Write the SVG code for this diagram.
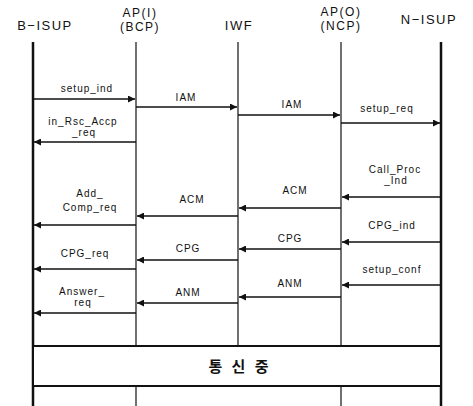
<svg xmlns="http://www.w3.org/2000/svg" width="473" height="406" viewBox="0 0 473 406">
<style>
.hd{font-family:"Liberation Sans",Arial,sans-serif;font-size:13px;letter-spacing:1.5px;text-anchor:middle;fill:#111}
.hd2{font-family:"Liberation Sans",Arial,sans-serif;font-size:12px;letter-spacing:1.5px;text-anchor:middle;fill:#111}
.lb{font-family:"Liberation Sans",Arial,sans-serif;font-size:10px;letter-spacing:1px;text-anchor:middle;fill:#111}
.thick{stroke:#111;stroke-width:2.5;fill:none}
.thin{stroke:#111;stroke-width:1.2;fill:none}
.msg{stroke:#111;stroke-width:1.3;fill:none;marker-end:url(#ah)}
</style>
<defs>
<marker id="ah" viewBox="0 0 10 10" refX="10" refY="5" markerWidth="9" markerHeight="7" markerUnits="userSpaceOnUse" orient="auto">
<path d="M0,0 L10,5 L0,10 z" fill="#111"/>
</marker>
</defs>
<rect width="473" height="406" fill="#fff"/>
<g id="B-ISUP">
<text class="hd" x="45" y="30">B−ISUP</text>
<line class="thick" x1="33" y1="42" x2="33" y2="406"/>
</g>
<g id="AP-I">
<text class="hd2" x="140" y="17">AP(I)</text>
<text class="hd2" x="140" y="31">(BCP)</text>
<line class="thin" x1="136" y1="42" x2="136" y2="346"/>
<line class="thin" x1="136" y1="386" x2="136" y2="406"/>
</g>
<g id="IWF">
<text class="hd" x="239" y="30">IWF</text>
<line class="thin" x1="238" y1="42" x2="238" y2="346"/>
</g>
<g id="AP-O">
<text class="hd2" x="341" y="16">AP(O)</text>
<text class="hd2" x="341" y="30">(NCP)</text>
<line class="thin" x1="341" y1="42" x2="341" y2="346"/>
<line class="thin" x1="341" y1="386" x2="341" y2="406"/>
</g>
<g id="N-ISUP">
<text class="hd" x="429" y="24">N−ISUP</text>
<line class="thick" x1="441" y1="42" x2="441" y2="406"/>
</g>
<g id="in-call">
<rect x="33" y="346" width="408" height="40" fill="#fff" stroke="#111" stroke-width="2"/>
<text x="240" y="372" style="font-family:'Noto Sans CJK KR',sans-serif;font-size:15px;font-weight:bold;letter-spacing:3px;text-anchor:middle;fill:#111">통 신 중</text>
</g>
<g id="connectors">
<line class="msg" x1="33" y1="99" x2="135" y2="99"/>
<text class="lb" x="87" y="92">setup_ind</text>
<line class="msg" x1="136" y1="107" x2="237" y2="107"/>
<text class="lb" x="186" y="101">IAM</text>
<line class="msg" x1="238" y1="115" x2="340" y2="115"/>
<text class="lb" x="292" y="108">IAM</text>
<line class="msg" x1="341" y1="123" x2="440" y2="123"/>
<text class="lb" x="387" y="112">setup_req</text>
<line class="msg" x1="136" y1="142" x2="34" y2="142"/>
<text class="lb" x="83" y="125">in_Rsc_Accp</text>
<text class="lb" x="84" y="136">_req</text>
<line class="msg" x1="441" y1="197" x2="342" y2="197"/>
<text class="lb" x="395" y="173">Call_Proc</text>
<text class="lb" x="396" y="184">_Ind</text>
<line class="msg" x1="341" y1="208" x2="239" y2="208"/>
<text class="lb" x="295" y="194">ACM</text>
<line class="msg" x1="238" y1="216" x2="137" y2="216"/>
<text class="lb" x="192" y="203">ACM</text>
<line class="msg" x1="136" y1="225" x2="34" y2="225"/>
<text class="lb" x="90" y="197">Add_</text>
<text class="lb" x="90" y="211">Comp_req</text>
<line class="msg" x1="441" y1="242" x2="342" y2="242"/>
<text class="lb" x="392" y="229">CPG_ind</text>
<line class="msg" x1="341" y1="249" x2="239" y2="249"/>
<text class="lb" x="290" y="242">CPG</text>
<line class="msg" x1="238" y1="260" x2="137" y2="260"/>
<text class="lb" x="188" y="252">CPG</text>
<line class="msg" x1="136" y1="269" x2="34" y2="269"/>
<text class="lb" x="85" y="257">CPG_req</text>
<line class="msg" x1="441" y1="285" x2="342" y2="285"/>
<text class="lb" x="392" y="273">setup_conf</text>
<line class="msg" x1="341" y1="297" x2="239" y2="297"/>
<text class="lb" x="290" y="287">ANM</text>
<line class="msg" x1="238" y1="303" x2="137" y2="303"/>
<text class="lb" x="188" y="296">ANM</text>
<line class="msg" x1="136" y1="313" x2="34" y2="313"/>
<text class="lb" x="82" y="295">Answer_</text>
<text class="lb" x="83" y="306">req</text>
</g>
</svg>
